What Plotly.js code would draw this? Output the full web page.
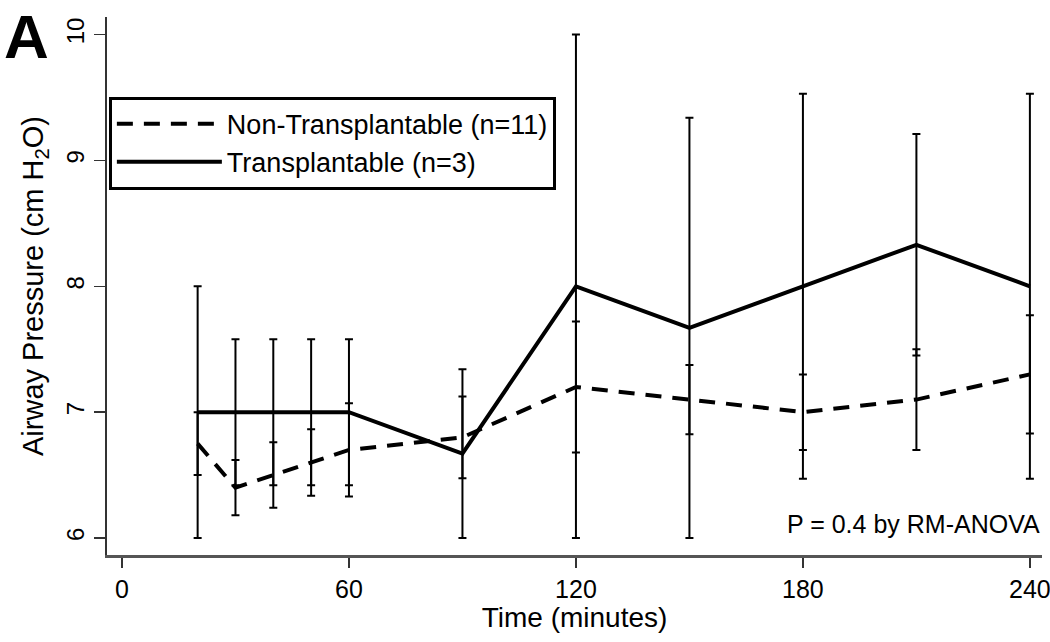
<!DOCTYPE html>
<html>
<head>
<meta charset="utf-8">
<script src="https://cdn.plot.ly/plotly-3.0.1.min.js"></script>
<style>html,body{margin:0;padding:0;background:#fff;}#chart{width:1050px;height:642px;}</style>
</head>
<body>
<div id="chart"></div>
<script>
// Time points (minutes)
var times = [20, 30, 40, 50, 60, 90, 120, 150, 180, 210, 240];

// Non-Transplantable (n=11): mean and error
var nonTransMean = [6.75, 6.40, 6.50, 6.60, 6.70, 6.80, 7.20, 7.10, 7.00, 7.10, 7.30];
var nonTransErr  = [0.25, 0.22, 0.26, 0.265, 0.37, 0.325, 0.52, 0.275, 0.30, 0.40, 0.47];

// Transplantable (n=3): mean and error
var transMean = [7.00, 7.00, 7.00, 7.00, 7.00, 6.67, 8.00, 7.67, 8.00, 8.33, 8.00];
var transErr  = [1.00, 0.58, 0.58, 0.58, 0.58, 0.67, 2.00, 1.67, 1.53, 0.88, 1.53];

var xTicks = [0, 60, 120, 180, 240];
var yTicks = [6, 7, 8, 9, 10];

var errStyle = {type: 'data', visible: true, color: '#000', thickness: 2, width: 4};

var traces = [
  {
    x: times, y: nonTransMean, type: 'scatter', mode: 'lines',
    name: 'Non-Transplantable (n=11)',
    line: {color: '#000', width: 4, dash: '16px,11px'},
    error_y: Object.assign({array: nonTransErr}, errStyle)
  },
  {
    x: times, y: transMean, type: 'scatter', mode: 'lines',
    name: 'Transplantable (n=3)',
    line: {color: '#000', width: 4},
    error_y: Object.assign({array: transErr}, errStyle)
  }
];

var FONT = 'Liberation Sans, Arial, sans-serif';

var layout = {
  width: 1050, height: 642,
  margin: {l: 107, r: 8, t: 17, b: 87, pad: 0},
  paper_bgcolor: '#fff', plot_bgcolor: '#fff',
  showlegend: true,
  legend: {
    x: 0.002, y: 0.852, xanchor: 'left', yanchor: 'top',
    bordercolor: '#000', borderwidth: 3, bgcolor: '#fff',
    font: {family: FONT, size: 27, color: '#000'},
    itemwidth: 105, tracegroupgap: 0
  },
  xaxis: {
    range: [-3.96, 243.2],
    tickvals: xTicks, ticktext: xTicks.map(String),
    ticks: 'outside', ticklen: 10, tickwidth: 1.5, tickcolor: '#333',
    showline: true, linecolor: '#555', linewidth: 2.5,
    showgrid: false, zeroline: false,
    ticklabeloverflow: 'allow',
    tickfont: {family: FONT, size: 25, color: '#000'},
    title: {text: 'Time (minutes)', font: {family: FONT, size: 28, color: '#000'}, standoff: 3}
  },
  yaxis: {
    range: [5.865, 10.14],
    tickvals: yTicks, ticktext: yTicks.map(String),
    tickangle: -90,
    ticks: 'outside', ticklen: 11, tickwidth: 1.5, tickcolor: '#333',
    showline: true, linecolor: '#333', linewidth: 2,
    showgrid: false, zeroline: false,
    tickfont: {family: FONT, size: 24, color: '#000'},
    title: {text: 'Airway Pressure (cm H<sub>2</sub>O)', font: {family: FONT, size: 29, color: '#000'}, standoff: 10}
  },
  annotations: [
    {text: '<b>A</b>', xref: 'paper', yref: 'paper', x: -0.111, y: 1.03, xanchor: 'left', yanchor: 'top',
     showarrow: false, borderpad: 0, font: {family: FONT, size: 62, color: '#000'}},
    {text: 'P = 0.4 by RM-ANOVA', xref: 'paper', yref: 'paper', x: 1.0, y: 0.028, xanchor: 'right', yanchor: 'bottom',
     showarrow: false, font: {family: FONT, size: 25, color: '#000'}}
  ]
};

Plotly.newPlot('chart', traces, layout, {displayModeBar: false, staticPlot: true});
</script>
</body>
</html>
